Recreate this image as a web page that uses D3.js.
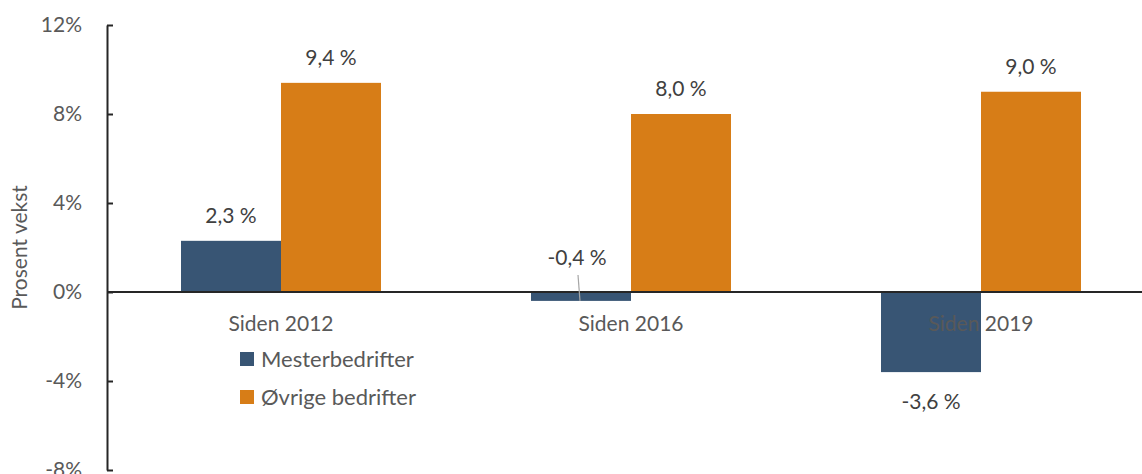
<!DOCTYPE html>
<html>
<head>
<meta charset="utf-8">
<script src="https://cdn.jsdelivr.net/npm/d3@7"></script>
<style>
  html, body { margin: 0; padding: 0; background: #fff; }
  svg { display: block; font-family: Lato, "Open Sans", sans-serif; }
</style>
</head>
<body>
<svg id="chart" width="1142" height="474"></svg>
<script>
// Growth since the given year, in percent
const categories = ["Siden 2012", "Siden 2016", "Siden 2019"];
const seriesNames = ["Mesterbedrifter", "Øvrige bedrifter"];
const mesterValues = [2.3, -0.4, -3.6];
const ovrigeValues = [9.4, 8.0, 9.0];
const yTicks = [-8, -4, 0, 4, 8, 12];
const colors = ["#385574", "#d77d17"];

const seriesValues = [mesterValues, ovrigeValues];
const rows = categories.flatMap((c, ci) =>
  seriesNames.map((s, si) => ({ category: c, series: s, si, value: seriesValues[si][ci] }))
);

const svg = d3.select("#chart");
const axisX = 107;
const fontSize = "21px";

const y = d3.scaleLinear().domain([-8, 12]).range([470, 25]);
const x0 = d3.scaleBand().domain(categories).range([axisX - 1, 1156]);
const x1 = d3.scaleBand().domain(seriesNames).range([0, x0.bandwidth()]).paddingOuter(0.75);

const fmt = v => d3.format(".1f")(v).replace(".", ",").replace("−", "-") + " %";

// bars
svg.append("g").selectAll("rect")
  .data(rows)
  .join("rect")
  .attr("x", d => x0(d.category) + x1(d.series))
  .attr("width", x1.bandwidth())
  .attr("y", d => y(Math.max(0, d.value)))
  .attr("height", d => Math.abs(y(d.value) - y(0)))
  .attr("fill", d => colors[d.si]);

// zero line
svg.append("line")
  .attr("x1", axisX).attr("x2", 1142)
  .attr("y1", y(0)).attr("y2", y(0))
  .attr("stroke", "#262626").attr("stroke-width", 2);

// y axis
const yAxis = svg.append("g")
  .attr("transform", `translate(${axisX},0)`)
  .call(d3.axisLeft(y).tickValues(yTicks).tickSize(-6).tickSizeOuter(0).tickPadding(25)
    .tickFormat(d => d + "%"));
yAxis.select(".domain").attr("stroke", "#262626").attr("stroke-width", 2);
yAxis.selectAll(".tick line").attr("stroke", "#262626").attr("stroke-width", 2);
yAxis.selectAll(".tick text")
  .attr("fill", "#595959").style("font-size", fontSize)
  .style("font-family", "Lato, 'Open Sans', sans-serif");

// y axis title
svg.append("text")
  .attr("transform", `translate(27,${(y(12) + y(-8)) / 2}) rotate(-90)`)
  .attr("text-anchor", "middle")
  .attr("fill", "#595959").style("font-size", fontSize)
  .text("Prosent vekst");

// category labels
svg.append("g").selectAll("text")
  .data(categories)
  .join("text")
  .attr("x", d => x0(d) + x0.bandwidth() / 2)
  .attr("y", y(0) + 39)
  .attr("text-anchor", "middle")
  .attr("fill", "#595959").style("font-size", fontSize)
  .text(d => d);

// value labels
const labelG = svg.append("g");
rows.forEach(d => {
  const cx = x0(d.category) + x1(d.series) + x1.bandwidth() / 2;
  const short = Math.abs(y(d.value) - y(0)) < 20;
  let ly;
  if (d.value >= 0) ly = y(d.value) - 18;
  else if (short) ly = y(0) - 27;
  else ly = y(d.value) + 37;
  if (d.value < 0 && short) {
    labelG.append("line")
      .attr("x1", cx - 3).attr("y1", ly + 10)
      .attr("x2", cx - 1).attr("y2", y(d.value))
      .attr("stroke", "#a6a6a6").attr("stroke-width", 1.2);
  }
  labelG.append("text")
    .attr("x", short ? cx - 4 : cx)
    .attr("y", ly)
    .attr("text-anchor", "middle")
    .attr("fill", "#404040").style("font-size", fontSize)
    .text(fmt(d.value));
});

// legend
const legend = svg.append("g").attr("transform", "translate(240,352)");
seriesNames.forEach((s, i) => {
  const g = legend.append("g").attr("transform", `translate(0,${i * 38})`);
  g.append("rect").attr("width", 14).attr("height", 14).attr("fill", colors[i]);
  g.append("text").attr("x", 21).attr("y", 15)
    .attr("fill", "#595959").style("font-size", "22px").text(s);
});
</script>
</body>
</html>
